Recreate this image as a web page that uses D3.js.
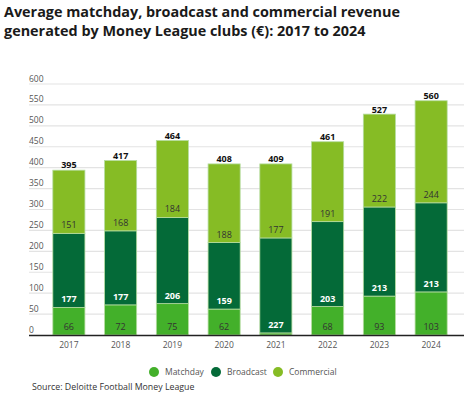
<!DOCTYPE html>
<html>
<head>
<meta charset="utf-8">
<script src="https://cdn.jsdelivr.net/npm/d3@7"></script>
<style>
  body { margin: 0; background: #fff; }
  svg { font-family: "Open Sans", sans-serif; display: block; }
</style>
</head>
<body>
<svg id="chart" width="466" height="395"></svg>
<script>
"use strict";

// data
var years = ["2017", "2018", "2019", "2020", "2021", "2022", "2023", "2024"];
var matchday = [66, 72, 75, 62, 5, 68, 93, 103];
var broadcast = [177, 177, 206, 159, 227, 203, 213, 213];
var commercial = [151, 168, 184, 188, 177, 191, 222, 244];
var totals = [395, 417, 464, 408, 409, 461, 527, 560];
var yTicks = [0, 50, 100, 150, 200, 250, 300, 350, 400, 450, 500, 550, 600];
var seriesNames = ["Matchday", "Broadcast", "Commercial"];

var colors = { Matchday: "#43b02a", Broadcast: "#046a38", Commercial: "#86bc25" };

var svg = d3.select("#chart");

// title
var title = svg.append("text")
    .attr("x", 4)
    .attr("font-size", 14.4)
    .attr("font-weight", 700)
    .attr("fill", "#1a1a1a");
title.append("tspan").attr("x", 4).attr("y", 17).text("Average matchday, broadcast and commercial revenue");
title.append("tspan").attr("x", 4).attr("y", 36).text("generated by Money League clubs (€): 2017 to 2024");

var left = 29, right = 464;

var x = d3.scaleBand()
    .domain(years)
    .range([43, 457])
    .paddingInner(0.38)
    .paddingOuter(0.19);

var y = d3.scaleLinear()
    .domain([0, 600])
    .range([335, 84]);

// gridlines + y labels
var grid = svg.append("g");
yTicks.forEach(function (t) {
    if (t > 0) {
        grid.append("line")
            .attr("x1", left).attr("x2", right)
            .attr("y1", y(t)).attr("y2", y(t))
            .attr("stroke", "#e3e3e3")
            .attr("stroke-width", 1.2);
    }
    grid.append("text")
        .attr("x", left)
        .attr("y", y(t) - 2.5)
        .attr("font-size", 8.5)
        .attr("fill", "#555")
        .text(t);
});

// stacked bars
var rows = years.map(function (yr, i) {
    return { year: yr, Matchday: matchday[i], Broadcast: broadcast[i], Commercial: commercial[i], total: totals[i] };
});
var stack = d3.stack().keys(seriesNames)(rows);

var bars = svg.append("g");
stack.forEach(function (layer) {
    bars.selectAll(".seg-" + layer.key)
        .data(layer)
        .enter()
        .append("rect")
        .attr("x", function (d) { return x(d.data.year); })
        .attr("width", x.bandwidth())
        .attr("y", function (d) { return y(d[1]); })
        .attr("height", function (d) { return y(d[0]) - y(d[1]); })
        .attr("fill", colors[layer.key])
        .attr("stroke", "#b5dca0")
        .attr("stroke-width", 0.8);
});

// segment labels
stack.forEach(function (layer) {
    bars.selectAll(".lab-" + layer.key)
        .data(layer.filter(function (d) { return d[1] - d[0] >= 20; }))
        .enter()
        .append("text")
        .attr("x", function (d) { return x(d.data.year) + x.bandwidth() / 2; })
        .attr("y", function (d) { return y(d[0]) - 5; })
        .attr("text-anchor", "middle")
        .attr("font-size", 9)
        .attr("font-weight", layer.key === "Broadcast" ? 700 : 400)
        .attr("fill", layer.key === "Broadcast" ? "#fff" : "#333")
        .text(function (d) { return d[1] - d[0]; });
});

// totals
bars.selectAll(".total")
    .data(rows)
    .enter()
    .append("text")
    .attr("x", function (d) { return x(d.year) + x.bandwidth() / 2; })
    .attr("y", function (d) { return y(d.total) - 2; })
    .attr("text-anchor", "middle")
    .attr("font-size", 9)
    .attr("font-weight", 700)
    .attr("fill", "#111")
    .text(function (d) { return d.total; });

// x axis
svg.append("line")
    .attr("x1", left).attr("x2", right)
    .attr("y1", 335.5).attr("y2", 335.5)
    .attr("stroke", "#222")
    .attr("stroke-width", 1.5);

svg.append("g").selectAll("text")
    .data(years)
    .enter()
    .append("text")
    .attr("x", function (d) { return x(d) + x.bandwidth() / 2; })
    .attr("y", 348)
    .attr("text-anchor", "middle")
    .attr("font-size", 8.5)
    .attr("fill", "#555")
    .text(function (d) { return d; });

// legend
var legendX = [154, 216, 278];
var legend = svg.append("g");
seriesNames.forEach(function (name, i) {
    legend.append("circle")
        .attr("cx", legendX[i]).attr("cy", 372)
        .attr("r", 5)
        .attr("fill", colors[name]);
    legend.append("text")
        .attr("x", legendX[i] + 11)
        .attr("y", 375)
        .attr("font-size", 8.5)
        .attr("fill", "#555")
        .text(name);
});

// source
svg.append("text")
    .attr("x", 32)
    .attr("y", 390)
    .attr("font-size", 8.8)
    .attr("fill", "#333")
    .text("Source: Deloitte Football Money League");
</script>
</body>
</html>
